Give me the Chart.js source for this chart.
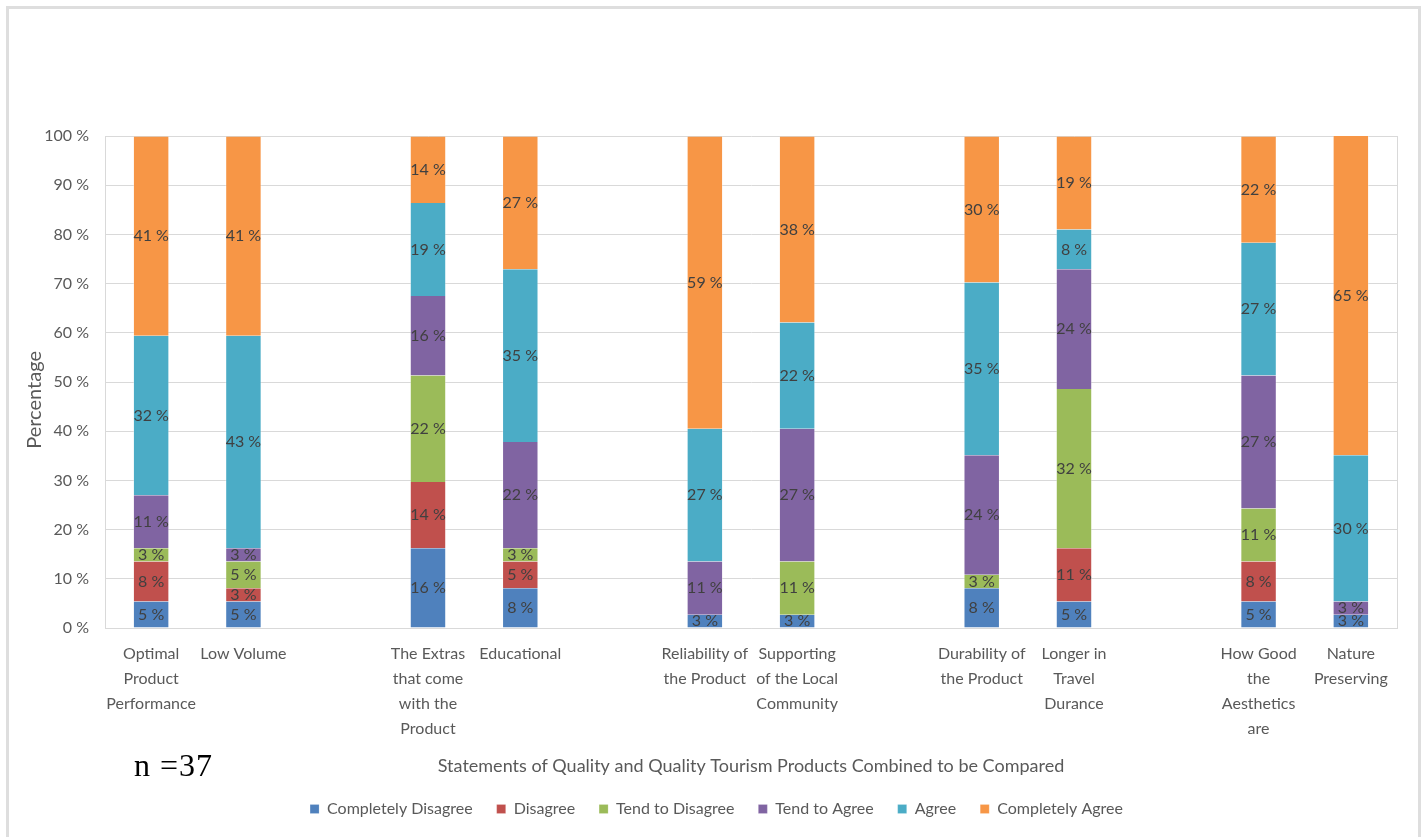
<!DOCTYPE html>
<html>
<head>
<meta charset="utf-8">
<script src="https://cdn.jsdelivr.net/npm/chart.js@4/dist/chart.umd.min.js"></script>
<style>
  html, body { margin: 0; padding: 0; background: #fff; overflow: hidden; }
  #wrap { position: relative; width: 1425px; height: 837px; }
  #frame {
    position: absolute; left: 6px; top: 6px; width: 1409px; height: 850px;
    border: 3px solid #dedede; box-sizing: content-box; pointer-events: none;
  }
  #n {
    position: absolute; left: 134px; top: 749px; line-height: 32px;
    font-family: "Liberation Serif", serif; font-size: 32px; letter-spacing: 1px; color: #000;
  }
  canvas { position: absolute; left: 0; top: 0; }
</style>
</head>
<body>
<div id="wrap">
  <canvas id="chart" width="1425" height="837"></canvas>
  <div id="frame"></div>
  <div id="n">n =37</div>
</div>
<script>
// empty strings are the gaps between the pairs of statements
const categories = [
  ['Optimal', 'Product', 'Performance'],
  'Low Volume',
  '',
  ['The Extras', 'that come', 'with the', 'Product'],
  'Educational',
  '',
  ['Reliability of', 'the Product'],
  ['Supporting', 'of the Local', 'Community'],
  '',
  ['Durability of', 'the Product'],
  ['Longer in', 'Travel', 'Durance'],
  '',
  ['How Good', 'the', 'Aesthetics', 'are'],
  ['Nature', 'Preserving'],
];

// percentages of the 37 answers
const completelyDisagree = [5.4, 5.4, null, 16.2, 8.1, null, 2.7, 2.7, null, 8.1, 5.4, null, 5.4, 2.7];
const disagree = [8.1, 2.7, null, 13.5, 5.4, null, 0, 0, null, 0, 10.8, null, 8.1, 0];
const tendToDisagree = [2.7, 5.4, null, 21.6, 2.7, null, 0, 10.8, null, 2.7, 32.4, null, 10.8, 0];
const tendToAgree = [10.8, 2.7, null, 16.2, 21.6, null, 10.8, 27.0, null, 24.3, 24.3, null, 27.0, 2.7];
const agree = [32.4, 43.2, null, 18.9, 35.1, null, 27.0, 21.6, null, 35.1, 8.1, null, 27.0, 29.7];
const completelyAgree = [40.5, 40.5, null, 13.5, 27.0, null, 59.4, 37.8, null, 29.7, 18.9, null, 21.6, 64.9];

const yTicks = [0, 10, 20, 30, 40, 50, 60, 70, 80, 90, 100];

const SERIES = [
  { label: 'Completely Disagree', data: completelyDisagree, color: '#4f81bd' },
  { label: 'Disagree', data: disagree, color: '#c0504d' },
  { label: 'Tend to Disagree', data: tendToDisagree, color: '#9bbb59' },
  { label: 'Tend to Agree', data: tendToAgree, color: '#8064a2' },
  { label: 'Agree', data: agree, color: '#4bacc6' },
  { label: 'Completely Agree', data: completelyAgree, color: '#f79646' },
];

const FONT = 'Lato, "Open Sans", sans-serif';
const TEXT = '#595959';
const GRID = '#d9d9d9';

// draws the "41 %" style labels in the middle of each segment
const segmentLabels = {
  id: 'segmentLabels',
  afterDatasetsDraw(chart) {
    const { ctx } = chart;
    ctx.save();
    ctx.font = `16px ${FONT}`;
    ctx.fillStyle = '#404040';
    ctx.textAlign = 'center';
    ctx.textBaseline = 'middle';
    chart.data.datasets.forEach((ds, i) => {
      const meta = chart.getDatasetMeta(i);
      meta.data.forEach((bar, j) => {
        const v = ds.data[j];
        if (!v) return;
        const mid = (bar.y + bar.base) / 2;
        ctx.fillText(`${Math.round(v)} %`, bar.x, mid);
      });
    });
    ctx.restore();
  },
};

// right edge of the plot area
const plotEdge = {
  id: 'plotEdge',
  afterDraw(chart) {
    const { ctx, chartArea } = chart;
    ctx.save();
    ctx.strokeStyle = GRID;
    ctx.lineWidth = 1;
    ctx.beginPath();
    ctx.moveTo(Math.round(chartArea.right) + 0.5, chartArea.top);
    ctx.lineTo(Math.round(chartArea.right) + 0.5, chartArea.bottom);
    ctx.stroke();
    ctx.restore();
  },
};

new Chart(document.getElementById('chart'), {
  type: 'bar',
  data: {
    labels: categories,
    datasets: SERIES.map((s) => ({
      label: s.label,
      data: s.data,
      backgroundColor: s.color,
      borderColor: 'rgba(255,255,255,0.35)',
      borderWidth: { left: 1, right: 1 },
      barPercentage: 0.395,
      categoryPercentage: 1,
    })),
  },
  options: {
    responsive: false,
    animation: false,
    layout: { padding: { left: 36, right: 28, top: 136, bottom: 10 } },
    plugins: {
      tooltip: { enabled: false },
      legend: {
        position: 'bottom',
        labels: {
          boxWidth: 9,
          boxHeight: 9,
          padding: 24,
          color: TEXT,
          font: { family: FONT, size: 16 },
        },
      },
    },
    scales: {
      x: {
        stacked: true,
        afterFit: (scale) => { scale.height = 149; },
        grid: { display: false, drawTicks: false },
        border: { display: true, color: GRID },
        ticks: {
          autoSkip: false,
          maxRotation: 0,
          minRotation: 0,
          padding: 13,
          color: TEXT,
          font: { family: FONT, size: 16, lineHeight: 1.5625 },
        },
        title: {
          display: true,
          text: 'Statements of Quality and Quality Tourism Products Combined to be Compared',
          color: TEXT,
          font: { family: FONT, size: 18, lineHeight: 1 },
          padding: { top: 0, bottom: 2 },
        },
      },
      y: {
        stacked: true,
        min: 0,
        max: 100,
        afterFit: (scale) => { scale.width = 69; },
        afterBuildTicks: (scale) => { scale.ticks = yTicks.map((v) => ({ value: v })); },
        grid: { color: GRID, drawTicks: false },
        border: { display: true, color: GRID },
        ticks: {
          padding: 16,
          color: TEXT,
          font: { family: FONT, size: 16 },
          callback: (v) => `${v} %`,
        },
        title: {
          display: true,
          // trailing spaces push the word a little below the middle, as in the original
          text: 'Percentage       ',
          color: TEXT,
          font: { family: FONT, size: 20, lineHeight: 1 },
          padding: { top: -11, bottom: 0 },
        },
      },
    },
  },
  plugins: [segmentLabels, plotEdge],
});
</script>
</body>
</html>
